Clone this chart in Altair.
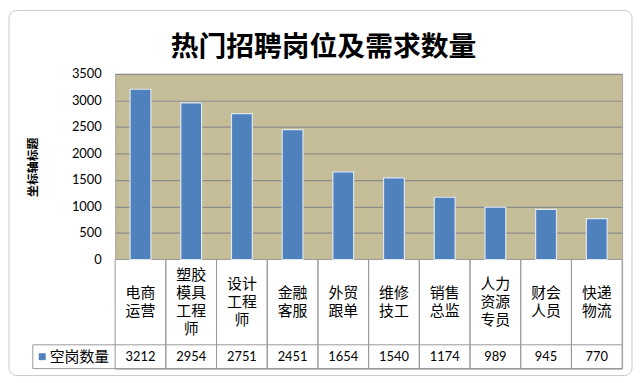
import altair as alt
import pandas as pd

# ---- data ----
categories = ["电商运营", "塑胶模具工程师", "设计工程师", "金融客服", "外贸跟单",
              "维修技工", "销售总监", "人力资源专员", "财会人员", "快递物流"]
cat_lines = [["电商", "运营"], ["塑胶", "模具", "工程", "师"], ["设计", "工程", "师"],
             ["金融", "客服"], ["外贸", "跟单"], ["维修", "技工"], ["销售", "总监"],
             ["人力", "资源", "专员"], ["财会", "人员"], ["快递", "物流"]]
values = [3212, 2954, 2751, 2451, 1654, 1540, 1174, 989, 945, 770]
y_ticks = [0, 500, 1000, 1500, 2000, 2500, 3000, 3500]
series_name = "空岗数量"
title_text = "热门招聘岗位及需求数量"
y_title = "坐标轴标题"

df = pd.DataFrame({"cat": categories, "value": values})
lines_df = pd.DataFrame(
    [{"cat": c, "line": s, "idx": i, "n": len(ls)}
     for c, ls in zip(categories, cat_lines) for i, s in enumerate(ls)]
)

PLOT_W = 511
BAR_H = 187
TABLE_BOTTOM = 297
ROW_SPLIT = 273
LEG_LEFT = -83
Y_MAX = 3500
Y_MIN = -Y_MAX * (TABLE_BOTTOM - BAR_H) / BAR_H
UNIT_PER_PX = (Y_MAX - Y_MIN) / TABLE_BOTTOM
CAT_CENTER = Y_MAX - UNIT_PER_PX * (BAR_H + ROW_SPLIT) / 2
LINE_STEP = UNIT_PER_PX * 18

CJK = "Noto Sans CJK SC"
NUM = "Lato"
BLUE = "#4F81BD"
LINE = "#9a9a9a"

xscale = alt.Scale(domain=categories, paddingInner=0, paddingOuter=0)
yscale = alt.Scale(domain=[Y_MIN, Y_MAX], nice=False, zero=False)
yaxis = alt.Axis(values=y_ticks, format="d", title=y_title, grid=True,
                 gridColor="#8c8c8c", gridWidth=1.2, ticks=False, tickSize=0,
                 domain=False, labelPadding=14, labelFont=NUM, labelFontSize=13,
                 labelColor="#000000", titleFont=CJK, titleFontSize=12,
                 titleFontWeight="bold", titleColor="#000000",
                 titleX=-83, titleY=BAR_H / 2, titleAngle=270,
                 titleAlign="center", titleBaseline="middle")

one = pd.DataFrame({"k": [1]})

white_table = alt.Chart(one).mark_rect(fill="white").encode(
    x=alt.value(0), x2=alt.value(PLOT_W), y=alt.value(BAR_H), y2=alt.value(TABLE_BOTTOM)
)

frame = alt.Chart(one).mark_rect(fill="white", fillOpacity=0, stroke="#c8c8c8", strokeWidth=1,
                                 cornerRadius=8).encode(
    x=alt.value(-107), x2=alt.value(521), y=alt.value(-64), y2=alt.value(304)
)

bars = alt.Chart(df).mark_bar(size=21, color=BLUE, stroke="#dce6f2", strokeWidth=1.2).encode(
    x=alt.X("cat:N", scale=xscale, axis=None),
    y=alt.Y("value:Q", scale=yscale, axis=yaxis),
    y2=alt.datum(0),
)

cells = alt.Chart(df).mark_rect(fill="white", fillOpacity=0, stroke=LINE, strokeWidth=1).encode(
    x=alt.X("cat:N", scale=xscale, axis=None),
    y=alt.datum(0), y2=alt.datum(Y_MIN),
)

hline_split = alt.Chart(one).mark_rule(color=LINE, strokeWidth=1).encode(
    x=alt.value(LEG_LEFT), x2=alt.value(PLOT_W), y=alt.value(ROW_SPLIT)
)
hline_bottom = alt.Chart(one).mark_rule(color=LINE, strokeWidth=1).encode(
    x=alt.value(LEG_LEFT), x2=alt.value(PLOT_W), y=alt.value(TABLE_BOTTOM)
)
vline_leg = alt.Chart(one).mark_rule(color=LINE, strokeWidth=1).encode(
    x=alt.value(LEG_LEFT), y=alt.value(ROW_SPLIT), y2=alt.value(TABLE_BOTTOM)
)

cat_text = alt.Chart(lines_df).transform_calculate(
    ly=f"{CAT_CENTER} - (datum.idx - (datum.n - 1) / 2) * {LINE_STEP}"
).mark_text(font=CJK, fontSize=15, baseline="middle", align="center", color="#000000").encode(
    x=alt.X("cat:N", scale=xscale, axis=None),
    y=alt.Y("ly:Q", scale=yscale, axis=yaxis),
    text="line:N",
)

val_text = alt.Chart(df).mark_text(font=NUM, fontSize=13, baseline="middle", align="center",
                                   color="#000000").encode(
    x=alt.X("cat:N", scale=xscale, axis=None),
    y=alt.value((ROW_SPLIT + TABLE_BOTTOM) / 2),
    text=alt.Text("value:Q", format="d"),
)

leg_sq = alt.Chart(one).mark_rect(color=BLUE).encode(
    x=alt.value(-77), x2=alt.value(-70),
    y=alt.value((ROW_SPLIT + TABLE_BOTTOM) / 2 - 3.5),
    y2=alt.value((ROW_SPLIT + TABLE_BOTTOM) / 2 + 3.5),
)
leg_text = alt.Chart(one).mark_text(
    font=CJK, fontSize=15, align="left", baseline="middle", color="#000000",
    text=series_name).encode(
    x=alt.value(-66), y=alt.value((ROW_SPLIT + TABLE_BOTTOM) / 2)
)

title_mark = alt.Chart(one).mark_text(
    font=CJK, fontSize=28, fontWeight="bold", align="center", baseline="middle",
    color="#000000", text=title_text).encode(
    x=alt.value(210), y=alt.value(-26)
)

chart = alt.layer(
    frame, white_table, cells, hline_split, hline_bottom, vline_leg,
    bars, cat_text, val_text, leg_sq, leg_text, title_mark
).properties(
    width=PLOT_W, height=TABLE_BOTTOM,
    autosize=alt.AutoSizeParams(type="none"),
    padding={"left": 108, "top": 65, "right": 13, "bottom": 10},
    background="white",
).configure_view(fill="#C4BD97", stroke="#a6a6a6", strokeWidth=1)

chart.save("out.html", embed_options={"renderer": "svg", "actions": False})
